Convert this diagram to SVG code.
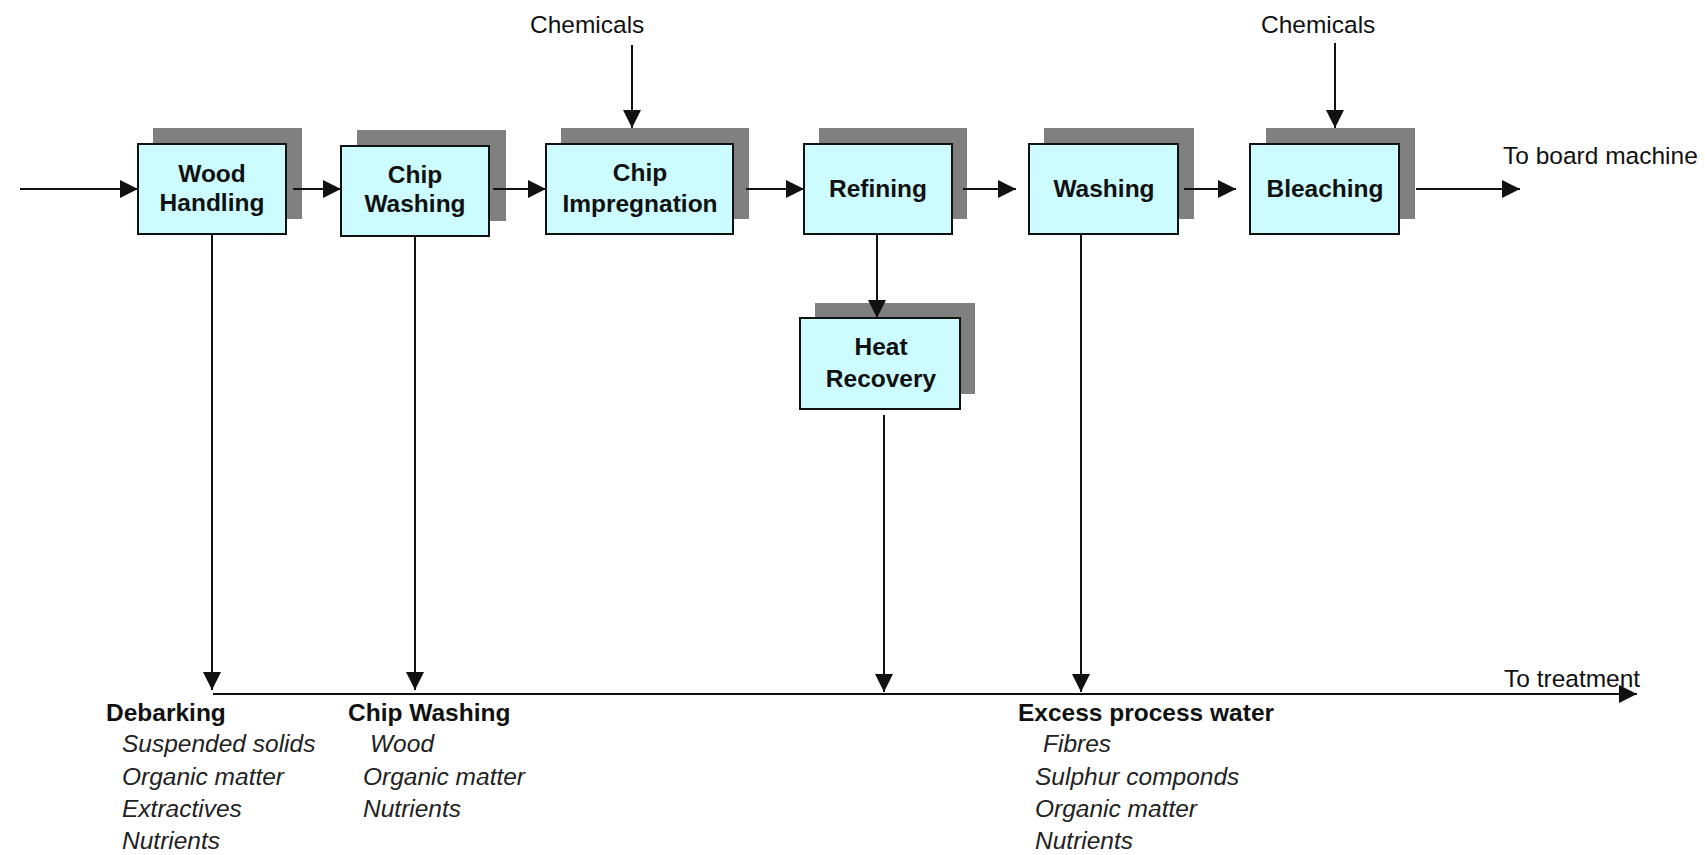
<svg xmlns="http://www.w3.org/2000/svg" width="1705" height="855" viewBox="0 0 1705 855">
<defs>
<style>
.sh{fill:#808080}
.bx{fill:#ccfcff;stroke:#111;stroke-width:2}
.bl{font-family:"Liberation Sans",Arial,sans-serif;font-weight:bold;font-size:24.5px;fill:#111;text-anchor:middle}
.lb{font-family:"Liberation Sans",Arial,sans-serif;font-size:24.5px;fill:#111}
.hd{font-family:"Liberation Sans",Arial,sans-serif;font-weight:bold;font-size:24.5px;fill:#111}
.it{font-family:"Liberation Sans",Arial,sans-serif;font-style:italic;font-size:24.5px;fill:#222}
.cn path{fill:none;stroke:#111;stroke-width:2;marker-end:url(#ah)}
</style>
<marker id="ah" markerWidth="18" markerHeight="18" refX="18" refY="9" orient="auto" markerUnits="userSpaceOnUse">
<path d="M0,0 L18,9 L0,18 z" fill="#111"/>
</marker>
</defs>
<rect width="1705" height="855" fill="#fff"/>

<g id="wood-handling">
<rect class="sh" x="153" y="128" width="149" height="91"/>
<rect class="bx" x="138" y="144" width="148" height="90"/>
<text class="bl" x="212" y="182">Wood</text>
<text class="bl" x="212" y="211">Handling</text>
</g>
<g id="chip-washing">
<rect class="sh" x="357" y="130" width="149" height="91"/>
<rect class="bx" x="341" y="146" width="148" height="90"/>
<text class="bl" x="415" y="183">Chip</text>
<text class="bl" x="415" y="212">Washing</text>
</g>
<g id="chip-impregnation">
<rect class="sh" x="561" y="128" width="188" height="91"/>
<rect class="bx" x="546" y="144" width="187" height="90"/>
<text class="bl" x="640" y="181">Chip</text>
<text class="bl" x="640" y="212">Impregnation</text>
</g>
<g id="refining">
<rect class="sh" x="819" y="128" width="148" height="91"/>
<rect class="bx" x="804" y="144" width="148" height="90"/>
<text class="bl" x="878" y="197">Refining</text>
</g>
<g id="washing">
<rect class="sh" x="1044" y="128" width="150" height="91"/>
<rect class="bx" x="1029" y="144" width="149" height="90"/>
<text class="bl" x="1104" y="197">Washing</text>
</g>
<g id="bleaching">
<rect class="sh" x="1266" y="128" width="149" height="91"/>
<rect class="bx" x="1250" y="144" width="149" height="90"/>
<text class="bl" x="1325" y="197">Bleaching</text>
</g>
<g id="heat-recovery">
<rect class="sh" x="815" y="303" width="160" height="91"/>
<rect class="bx" x="800" y="318" width="160" height="91"/>
<text class="bl" x="881" y="355">Heat</text>
<text class="bl" x="881" y="387">Recovery</text>
</g>

<g id="labels">
<text class="lb" x="530" y="33">Chemicals</text>
<text class="lb" x="1261" y="33">Chemicals</text>
<text class="lb" x="1503" y="164">To board machine</text>
<text class="lb" x="1504" y="687">To treatment</text>
</g>

<g id="debarking">
<text class="hd" x="106" y="721">Debarking</text>
<text class="it" x="122" y="752">Suspended solids</text>
<text class="it" x="122" y="785">Organic matter</text>
<text class="it" x="122" y="817">Extractives</text>
<text class="it" x="122" y="849">Nutrients</text>
</g>
<g id="chip-washing-effluent">
<text class="hd" x="348" y="721">Chip Washing</text>
<text class="it" x="370" y="752">Wood</text>
<text class="it" x="363" y="785">Organic matter</text>
<text class="it" x="363" y="817">Nutrients</text>
</g>
<g id="excess-process-water">
<text class="hd" x="1018" y="721">Excess process water</text>
<text class="it" x="1043" y="752">Fibres</text>
<text class="it" x="1035" y="785">Sulphur componds</text>
<text class="it" x="1035" y="817">Organic matter</text>
<text class="it" x="1035" y="849">Nutrients</text>
</g>

<g id="connectors" class="cn">
<path d="M20,189 H138"/>
<path d="M293,189 H341"/>
<path d="M493,189 H546"/>
<path d="M746,189 H804"/>
<path d="M963,189 H1016"/>
<path d="M1184,189 H1236"/>
<path d="M1416,189 H1520"/>
<path d="M632,45 V128"/>
<path d="M1335,43 V128"/>
<path d="M877,234 V318"/>
<path d="M212,234 V690"/>
<path d="M415,236 V690"/>
<path d="M884,415 V692"/>
<path d="M1081,234 V692"/>
<path d="M213,694 H1637"/>
</g>
</svg>
